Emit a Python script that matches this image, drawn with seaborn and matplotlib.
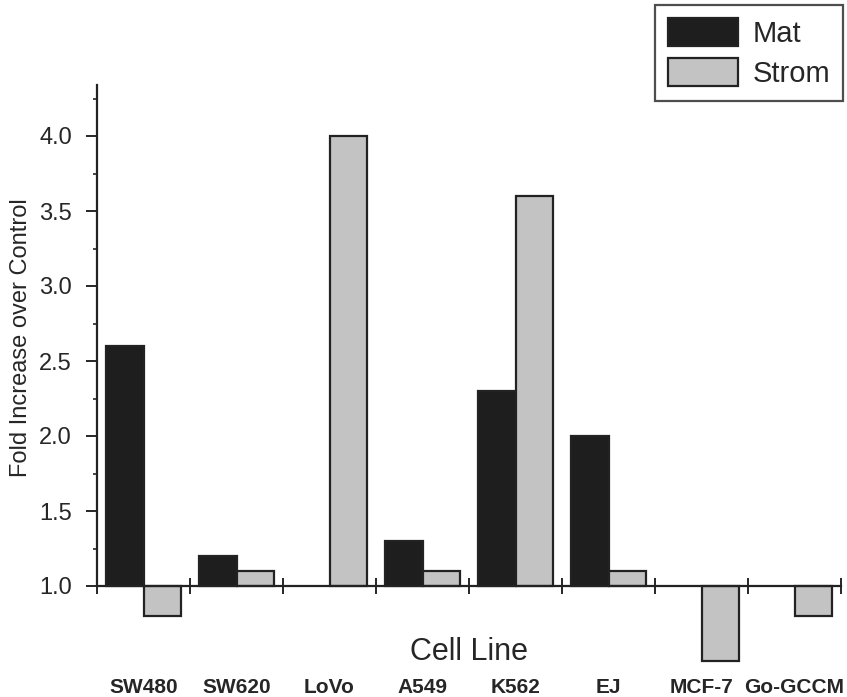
import numpy as np
import pandas as pd
import matplotlib
matplotlib.use("Agg")
import matplotlib.pyplot as plt
from matplotlib.patches import Patch
from matplotlib.ticker import FixedLocator
import seaborn as sns

# values (fold increase, baseline 1.0)
cells = ["SW480", "SW620", "LoVo", "A549", "K562", "EJ", "MCF-7", "Go-GCCM"]
mat = [2.6, 1.2, np.nan, 1.3, 2.3, 2.0, np.nan, np.nan]
strom = [0.8, 1.1, 4.0, 1.1, 3.6, 1.1, 0.5, 0.8]
colors = {"Mat": "#1e1e1e", "Strom": "#c3c3c3"}

df = pd.DataFrame({"cell": cells * 2,
                   "fold": mat + strom,
                   "type": ["Mat"] * len(cells) + ["Strom"] * len(cells)})
base = 1.0
df["delta"] = df["fold"] - base

sns.set_style("ticks")
plt.rcParams["font.family"] = ["Liberation Sans", "DejaVu Sans"]

fig = plt.figure(figsize=(8.47, 6.97), dpi=100)
ax = fig.add_axes([97 / 847, 1 - 673 / 697, (841 - 97) / 847, (673 - 85) / 697])

sns.barplot(data=df, x="cell", y="delta", hue="type", order=cells,
            palette=colors, bottom=base, width=0.8, errorbar=None,
            edgecolor="#222222", linewidth=1.6, legend=False, ax=ax)

ax.set_ylim(0.42, 4.34)
ax.set_xlim(-0.5, len(cells) - 0.5)

# axes styling
ax.spines["top"].set_visible(False)
ax.spines["right"].set_visible(False)
ax.spines["bottom"].set_position(("data", base))
ax.spines["left"].set_bounds(base, 4.34)
for s in ["left", "bottom"]:
    ax.spines[s].set_linewidth(1.6)
    ax.spines[s].set_color("#222222")

ax.yaxis.set_major_locator(FixedLocator([1.0, 1.5, 2.0, 2.5, 3.0, 3.5, 4.0]))
ax.yaxis.set_minor_locator(FixedLocator([1.25, 1.75, 2.25, 2.75, 3.25, 3.75, 4.25]))
ax.yaxis.set_major_formatter(plt.FormatStrFormatter("%.1f"))
ax.tick_params(axis="y", which="major", length=8, width=1.4, labelsize=17, pad=10)
ax.tick_params(axis="y", which="minor", length=3, width=1.2)

ax.xaxis.set_minor_locator(FixedLocator(np.arange(len(cells) + 1) - 0.5))
ax.tick_params(axis="x", which="major", length=0, labelsize=15, pad=66)
ax.tick_params(axis="x", which="minor", length=12, width=1.4, direction="inout")
for lab in ax.get_xticklabels():
    lab.set_fontweight("bold")

ax.set_ylabel("Fold Increase over Control", fontsize=17)
ax.yaxis.set_label_coords(-0.088, 0.571)
ax.set_xlabel("Cell Line", fontsize=22)
ax.xaxis.set_label_coords(0.5, 0.062)

handles = [Patch(facecolor=colors[k], edgecolor="#222222", linewidth=1.6) for k in colors]
leg = ax.legend(handles, list(colors), loc="upper right", bbox_to_anchor=(1.003, 1.136),
                frameon=True, fancybox=False, fontsize=21, handlelength=2.4,
                handleheight=1.1, handletextpad=0.5, borderpad=0.45,
                labelspacing=0.35, borderaxespad=0)
leg.get_frame().set_edgecolor("#222222")
leg.get_frame().set_linewidth(1.6)

fig.savefig("out.png", dpi=100)
